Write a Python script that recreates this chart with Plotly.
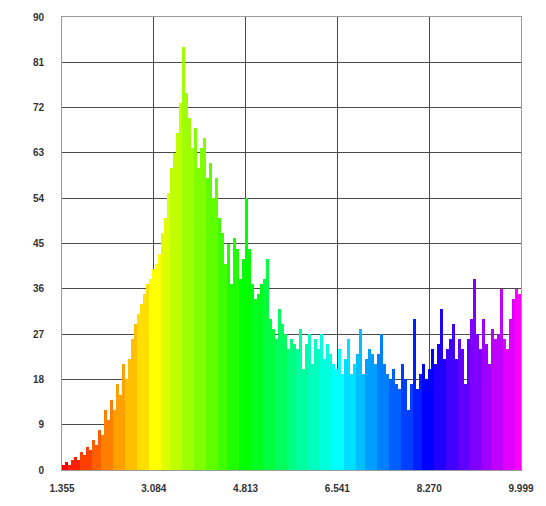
import plotly.graph_objects as go
import colorsys

x_start = 1.355
x_end = 9.999
x_ticks = [1.355, 3.084, 4.813, 6.541, 8.270, 9.999]
x_tick_labels = ["1.355", "3.084", "4.813", "6.541", "8.270", "9.999"]
y_ticks = [0, 9, 18, 27, 36, 45, 54, 63, 72, 81, 90]
y_tick_labels = ["0", "9", "18", "27", "36", "45", "54", "63", "72", "81", "90"]

counts = [
    1, 1.5, 1, 2, 2.5, 2, 3.5, 3, 4.5, 4,
    6, 5, 8, 7, 12, 10, 14, 12, 17, 15,
    21, 18, 22, 26, 29, 31, 33, 35, 37, 38,
    40, 41, 43, 47, 50, 55, 60, 63, 67, 73,
    84, 75, 70, 64, 68, 60, 64, 66, 58, 61,
    54, 58, 50, 47, 41, 45, 37, 46, 44, 38,
    42, 54, 44, 37, 34, 35, 37, 38, 42, 30,
    28, 26, 32, 29, 27, 24, 26, 25, 24, 28,
    20, 25, 27, 21, 26, 24, 27, 22, 25, 23,
    21, 20, 24, 19, 22, 26, 19, 21, 23, 28,
    19, 22, 24, 23, 21, 23, 27, 21, 19, 18,
    20, 17, 16, 21, 18, 12, 17, 30, 16, 19,
    21, 18, 20, 24, 21, 25, 32, 22, 24, 26,
    29, 22, 26, 24, 17, 26, 30, 38, 27, 24,
    30, 25, 21, 28, 26, 27, 36, 26, 24, 30,
    34, 36, 35,
]

n = len(counts)
bin_width = (x_end - x_start) / n

def spectrum_color(i, n):
    hue = 300.0 * (i + 0.5) / n
    hue = round(hue / 7.5) * 7.5
    r, g, b = colorsys.hsv_to_rgb(hue / 360.0, 1.0, 1.0)
    return f"rgb({int(r*255)},{int(g*255)},{int(b*255)})"

colors = [spectrum_color(i, n) for i in range(n)]

fig = go.Figure()
fig.add_trace(go.Bar(
    y=counts,
    x0=x_start + bin_width / 2,
    dx=bin_width,
    marker=dict(color=colors, line=dict(width=0)),
    width=bin_width,
    hoverinfo="skip",
))

grid_color = "#4a4a4a"
tick_font = dict(family="Liberation Sans, Arial, sans-serif", size=10, color="#333333", weight="bold")

fig.update_layout(
    width=546,
    height=506,
    margin=dict(l=54, r=33, t=9, b=44),
    paper_bgcolor="white",
    plot_bgcolor="white",
    bargap=0,
    showlegend=False,
    xaxis=dict(
        range=[x_start, x_end],
        tickmode="array",
        tickvals=x_ticks,
        ticktext=x_tick_labels,
        showgrid=True,
        gridcolor=grid_color,
        gridwidth=1,
        zeroline=False,
        showline=True,
        linecolor="#9a9a9a",
        linewidth=1,
        mirror=True,
        ticks="",
        automargin=False,
        ticklabelstandoff=9,
        tickfont=tick_font,
    ),
    yaxis=dict(
        range=[0, 90],
        tickmode="array",
        tickvals=y_ticks,
        ticktext=y_tick_labels,
        showgrid=True,
        gridcolor=grid_color,
        gridwidth=1,
        zeroline=False,
        showline=True,
        linecolor="#9a9a9a",
        linewidth=1,
        mirror=True,
        ticks="",
        automargin=False,
        ticklabelstandoff=15,
        tickfont=tick_font,
    ),
)

fig.write_html("out.html")
